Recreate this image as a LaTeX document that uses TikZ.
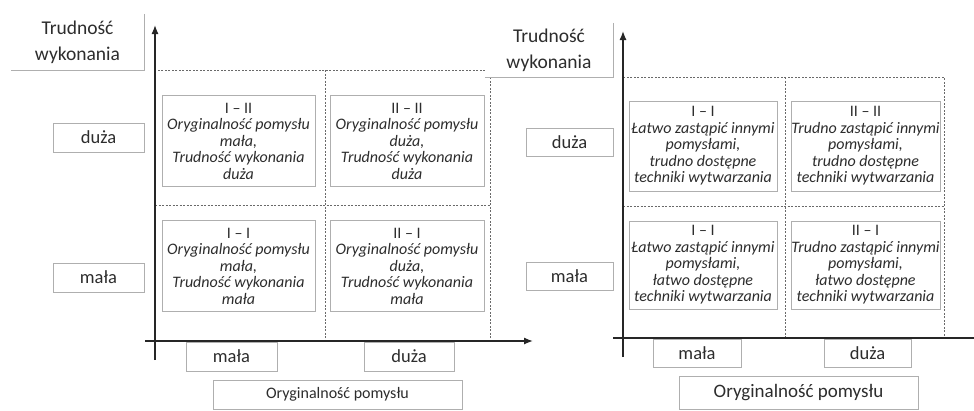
\documentclass[tikz,border=0pt]{standalone}
\usepackage{fontspec}
\setmainfont{Carlito}
\usetikzlibrary{arrows.meta, positioning}
\definecolor{txt}{RGB}{45,45,45}
\definecolor{frame}{RGB}{175,175,175}
\definecolor{gridc}{RGB}{105,105,105}

\begin{document}
\begin{tikzpicture}[x=1pt, y=-1pt,
  lab/.style={draw=frame, fill=white, inner sep=0pt, minimum width=91pt, minimum height=29pt,
              font=\fontsize{18.5}{20}\selectfont, text=txt},
  ttl/.style={fill=white, inner sep=0pt, align=center, font=\fontsize{19.5}{26}\selectfont, text=txt},
  cell/.style={draw=frame, fill=white, inner sep=0pt, minimum width=153pt, minimum height=91pt,
               align=center, font=\itshape\fontsize{16}{16.5}\selectfont, text=txt},
  axis/.style={-{Latex[length=9pt,width=7pt]}, line width=1.3pt, black!85},
  gridline/.style={gridc, line width=0.7pt, dash pattern=on 2pt off 1.5pt},
  edge/.style={frame, line width=0.6pt}
]
\clip (0,0) rectangle (974,410);

% left diagram
\draw[gridline] (155,70) rectangle (490,341);
\draw[gridline] (325,70) -- (325,341);
\draw[gridline] (155,205) -- (490,205);

\coordinate (L-o)  at (155,341);
\coordinate (L-yb) at (155,360);
\coordinate (L-yt) at (155,25);
\coordinate (L-xb) at (145,341);
\coordinate (L-xt) at (533,341);
\draw[axis] (L-yb) -- (L-yt);
\draw[axis] (L-xb) -- (L-xt);

\node[ttl, minimum width=133pt, minimum height=56pt] (L-ty) at (77.5,42) {Trudność\\wykonania};
\node[lab] (L-hi) at (98.5,137.5) {duża};
\node[lab] (L-lo) at (98.5,277.5) {mała};
\node[lab] (L-xlo) at (231.5,356.5) {mała};
\node[lab, minimum width=90pt] (L-xhi) at (409,356.5) {duża};
\node[lab, minimum width=249pt, minimum height=29pt, font=\fontsize{16}{18}\selectfont] (L-xn) at (337.5,394.5) {Oryginalność pomysłu};

\node[cell] (L-c12) at (238.5,141)
  {{\upshape I – II}\\Oryginalność pomysłu\\mała,\\Trudność wykonania\\duża};
\node[cell, minimum width=154pt] (L-c22) at (407,141)
  {{\upshape II – II}\\Oryginalność pomysłu\\duża,\\Trudność wykonania\\duża};
\node[cell] (L-c11) at (238.5,266)
  {{\upshape I – I}\\Oryginalność pomysłu\\mała,\\Trudność wykonania\\mała};
\node[cell, minimum width=154pt] (L-c21) at (407,266)
  {{\upshape II – I}\\Oryginalność pomysłu\\duża,\\Trudność wykonania\\mała};

% right diagram
\draw[gridline] (623,77) rectangle (944,338);
\draw[gridline] (785,77) -- (785,338);
\draw[gridline] (623,206) -- (944,206);

\coordinate (R-yb) at (623,357);
\coordinate (R-yt) at (623,31);
\coordinate (R-xb) at (613,338);
\coordinate (R-xt) at (974,338);
\draw[axis] (R-yb) -- (R-yt);
\draw[line width=1.3pt, black!85] (R-xb) -- (R-xt);

\node[ttl, minimum width=128pt, minimum height=54pt] (R-ty) at (549,50) {Trudność\\wykonania};
\node[lab, minimum width=87pt, minimum height=28pt] (R-hi) at (569.5,142) {duża};
\node[lab, minimum width=87pt, minimum height=28pt] (R-lo) at (569.5,276.5) {mała};
\node[lab, minimum width=88pt, minimum height=28pt] (R-xlo) at (697,353) {mała};
\node[lab, minimum width=87pt, minimum height=28pt] (R-xhi) at (867.5,353) {duża};
\node[lab, minimum width=239pt, minimum height=33pt, font=\fontsize{19}{21}\selectfont] (R-xn) at (798.5,392.5) {Oryginalność pomysłu};

\node[cell, minimum width=148pt, minimum height=90pt] (R-c12) at (703,146)
  {{\upshape I – I}\\Łatwo zastąpić innymi\\pomysłami,\\trudno dostępne\\techniki wytwarzania};
\node[cell, minimum width=147pt, minimum height=90pt] (R-c22) at (865.5,146)
  {{\upshape II – II}\\Trudno zastąpić innymi\\pomysłami,\\trudno dostępne\\techniki wytwarzania};
\node[cell, minimum width=148pt, minimum height=88pt] (R-c11) at (703,265)
  {{\upshape I – I}\\Łatwo zastąpić innymi\\pomysłami,\\łatwo dostępne\\techniki wytwarzania};
\node[cell, minimum width=147pt, minimum height=88pt] (R-c21) at (865.5,265)
  {{\upshape II – I}\\Trudno zastąpić innymi\\pomysłami,\\łatwo dostępne\\techniki wytwarzania};

\foreach \n in {L-ty, R-ty}
  \draw[edge] (\n.north east) -- (\n.south east) -- (\n.south west);
\end{tikzpicture}
\end{document}
